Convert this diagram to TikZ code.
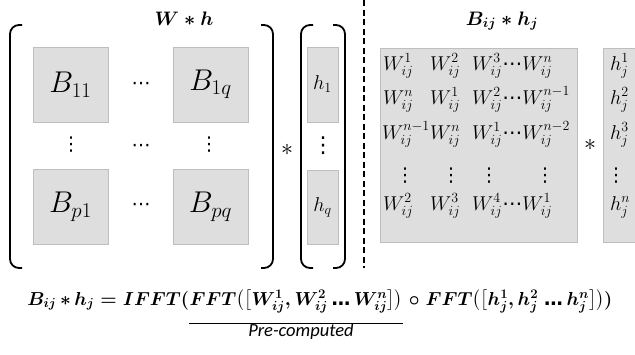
\RequirePackage{fix-cm}
\documentclass[tikz,border=0pt]{standalone}
\usepackage{amsmath}
\usepackage{bm}
\usepackage{fontspec}
\newfontfamily\carlito{Carlito}
\newfontfamily\dejavu{DejaVu Sans}
\definecolor{boxfill}{RGB}{222,222,222}
\definecolor{boxline}{RGB}{190,190,190}
\newcommand\cdt{\mbox{\dejavu\char"22EF}}
\newcommand\ldt{\mbox{\dejavu\bfseries\char"2026}}
\newcommand\vdt{{\dejavu\char"22EE}}
\newcommand\Wcirc[1]{W_{ij}^{#1}}
\newcommand\Hcirc[1]{h_{j}^{#1}}
\begin{document}
\begin{tikzpicture}[x=1pt,y=-1pt,
  gbox/.style={draw=boxline, fill=boxfill, line width=0.9pt, inner sep=0},
  brk/.style={line width=1.8pt, rounded corners=9pt},
  dsh/.style={line width=1.8pt, dash pattern=on 6pt off 3.5pt},
  bigB/.style={font=\fontsize{30}{33}\selectfont},
  smallh/.style={font=\fontsize{20}{23}\selectfont},
  ent/.style={inner sep=0, anchor=base west, font=\fontsize{20}{23}\selectfont},
  vd/.style={inner sep=0, font=\fontsize{19}{21}\selectfont},
  mul/.style={inner sep=0, font=\fontsize{24}{26}\selectfont},
  ttl/.style={inner sep=0, anchor=base, font=\fontsize{19.5}{22}\selectfont},
  eq/.style={inner sep=0, font=\fontsize{18.8}{22}\selectfont},
  note/.style={inner sep=0, anchor=base, font=\fontsize{18.5}{21}\selectfont\carlito\itshape},
  uline/.style={line width=0.9pt}
]
\useasboundingbox (0,0) rectangle (635,354);

% titles
\node[ttl] (t1) at (184,25) {{\mathversion{bold}$W*h$}};
\node[ttl] (t2) at (502,25) {{\mathversion{bold}$B_{ij}*h_{j}$}};

% left block matrix
\node[gbox, bigB, minimum width=75, minimum height=75] (b11) at (70.5,84.5) {$B_{11}$};
\node[gbox, bigB, minimum width=75, minimum height=75] (b1q) at (210.5,84.5) {$B_{1q}$};
\node[gbox, bigB, minimum width=75, minimum height=75] (bp1) at (70.5,207) {$B_{p1}$};
\node[gbox, bigB, minimum width=75, minimum height=75] (bpq) at (210.5,207) {$B_{pq}$};
\node[vd] (c1) at (141,86) {\cdt};
\node[vd] (c2) at (141,207) {\cdt};
\node[vd] (c3) at (141,148) {\cdt};
\node[vd] (v1) at (71,145) {\vdt};
\node[vd] (v2) at (209,145) {\vdt};

% brackets of W
\draw[brk] (22,25) -- (10,25) -- (10,268) -- (22,268);
\draw[brk] (261,25) -- (273,25) -- (273,268) -- (261,268);
\node[mul] (m1) at (287,150) {$\ast$};

% h vector
\node[gbox, smallh, minimum width=31, minimum height=75] (h1) at (322.5,84.5) {$h_1$};
\node[gbox, smallh, minimum width=31, minimum height=74] (hq) at (322.5,207.5) {$h_q$};
\node[vd, font=\fontsize{22}{24}\selectfont] (v3) at (323,146) {\vdt};
\draw[brk] (313,25) -- (301,25) -- (301,268) -- (313,268);
\draw[brk] (333,25) -- (345,25) -- (345,268) -- (333,268);

% dashed separator
\coordinate (d1) at (364,0);
\coordinate (d2) at (364,268);
\draw[dsh] (d1) -- (d2);

% circulant block
\node[gbox, anchor=north west, minimum width=197, minimum height=194] (bw) at (380,48) {};
\node[ent] (w11) at (383,70) {$\Wcirc{1}$};
\node[ent] (w12) at (430,70) {$\Wcirc{2}$};
\node[ent] (w13) at (472,70) {$\Wcirc{3}\cdt\Wcirc{n}$};
\node[ent] (w21) at (383,104) {$\Wcirc{n}$};
\node[ent] (w22) at (430,104) {$\Wcirc{1}$};
\node[ent] (w23) at (472,104) {$\Wcirc{2}\cdt\Wcirc{n-1}$};
\node[ent] (w31) at (382,139) {$\Wcirc{n-1}$};
\node[ent] (w32) at (430,139) {$\Wcirc{n}$};
\node[ent] (w33) at (472,139) {$\Wcirc{1}\cdt\Wcirc{n-2}$};
\node[vd] (wv1) at (405,176) {\vdt};
\node[vd] (wv2) at (451,176) {\vdt};
\node[vd] (wv3) at (489,176) {\vdt};
\node[vd] (wv4) at (545,176) {\vdt};
\node[ent] (w51) at (383,210) {$\Wcirc{2}$};
\node[ent] (w52) at (430,210) {$\Wcirc{3}$};
\node[ent] (w53) at (472,210) {$\Wcirc{4}\cdt\Wcirc{1}$};

\node[mul] (m2) at (590,145) {$\ast$};

% h_j column (cut by the page edge)
\fill[boxfill] (603,48) rectangle (635,242);
\draw[boxline, line width=0.9pt] (635,48) -| (603,242) -- (635,242);
\node[ent] (hj1) at (610,70) {$\Hcirc{1}$};
\node[ent] (hj2) at (610,104) {$\Hcirc{2}$};
\node[ent] (hj3) at (610,139) {$\Hcirc{3}$};
\node[vd] (hjv) at (616,176) {\vdt};
\node[ent] (hjn) at (610,210) {$\Hcirc{n}$};

% equation
\node[eq, anchor=base] (mid) at (296,305)
  {{\mathversion{bold}$FFT\bigl(\bigl[W_{ij}^{1},W_{ij}^{2}\,\ldt\, W_{ij}^{n}\bigr]\bigr)$}};
\node[eq, anchor=base east] (lft) at (mid.base west)
  {{\mathversion{bold}$B_{ij}\,{*}\,h_{j}\;{=}\;IFFT($}};
\node[eq, anchor=base west] (rgt) at (mid.base east)
  {{\mathversion{bold}$\;\circ\;FFT\bigl(\bigl[h_{j}^{1},h_{j}^{2}\;\ldt\, h_{j}^{n}\bigr]\bigr))$}};
\path (mid.base west) ++(0,18) coordinate (u1);
\path (mid.base east) ++(0,18) coordinate (u2);
\draw[uline] (u1) -- (u2);
\node[note] (pc) at (301,336) {Pre-computed};
\end{tikzpicture}
\end{document}
